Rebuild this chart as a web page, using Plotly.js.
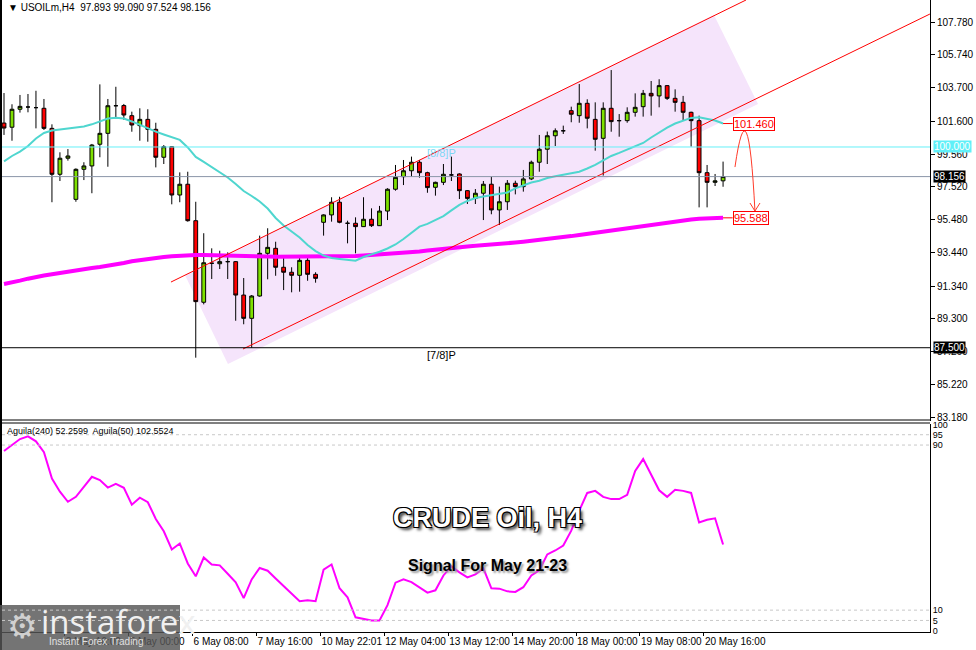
<!DOCTYPE html>
<html><head><meta charset="utf-8">
<script src="https://cdn.plot.ly/plotly-3.0.1.min.js"></script>
<style>body{margin:0;background:#fff}#chart{width:976px;height:650px}</style>
</head><body><div id="chart"></div>
<script>
// ---- DATA (USOILm, H4) ----
const openP  = [101.49,101.23,102.35,102.49,102.45,102.41,101.16,98.30,99.30,96.74,98.61,98.82,100.17,100.85,102.57,102.58,101.95,101.33,101.72,101.10,99.36,100.02,97.01,97.68,95.41,90.33,92.76,92.73,92.86,92.86,90.78,89.33,90.72,93.38,93.69,92.51,92.20,92.01,92.94,92.07,95.31,95.77,96.56,95.25,95.25,95.04,95.50,95.10,96.01,97.37,98.15,98.52,99.05,98.40,97.49,97.80,98.26,98.32,97.28,96.80,97.12,97.68,96.08,96.59,97.74,97.53,98.01,99.05,99.86,100.70,101.01,102.26,101.95,102.72,101.72,100.54,102.41,101.64,101.64,102.16,102.51,103.34,103.18,103.82,103.03,102.78,102.16,101.64,98.40,97.80,97.893];
const highP  = [103.36,102.66,103.24,103.30,103.50,102.99,101.41,99.67,99.87,98.67,99.05,100.19,103.90,102.99,103.75,102.68,102.20,102.41,102.35,101.51,100.12,100.06,98.42,98.46,96.59,94.63,93.69,93.54,93.44,92.90,91.84,90.78,94.48,94.94,94.10,93.17,92.51,93.17,93.13,92.20,95.81,96.87,96.90,95.41,95.62,96.87,96.18,96.33,97.43,98.88,99.19,99.40,99.19,98.46,97.84,98.94,99.40,98.36,97.32,97.38,97.88,98.15,97.53,97.94,97.90,98.57,99.15,100.75,100.96,101.16,101.33,102.51,103.92,102.97,102.78,102.78,104.79,102.05,102.47,103.34,103.55,104.11,104.22,103.86,103.59,103.18,102.20,101.95,98.88,98.32,99.090];
const lowP   = [100.75,100.39,102.14,102.16,101.16,101.06,96.56,97.88,99.15,96.59,97.94,97.12,99.36,98.77,101.79,101.70,100.95,100.39,100.33,98.73,98.94,96.43,96.56,95.35,86.88,90.20,91.78,92.40,91.78,89.18,88.96,87.50,90.68,91.76,91.98,91.09,90.95,90.99,91.67,91.55,94.48,95.35,95.25,94.00,93.38,95.02,95.02,95.08,95.45,97.28,97.63,98.15,98.09,97.15,96.97,97.63,97.88,96.76,96.45,96.45,95.45,95.81,95.14,96.08,97.05,97.22,97.94,98.46,98.94,100.06,100.81,101.54,101.51,101.16,99.77,98.22,100.95,100.64,101.51,101.89,101.89,101.95,102.47,102.93,102.20,101.64,100.02,96.24,96.24,97.57,97.524];
const closeP = [101.18,102.35,102.53,102.49,102.45,101.16,98.30,99.30,99.44,98.61,98.82,100.12,100.85,102.57,102.57,101.99,101.37,101.72,101.10,99.36,100.02,97.01,97.68,95.41,90.37,92.79,92.76,92.86,92.86,90.78,89.33,90.72,93.38,93.75,92.51,92.20,92.01,92.94,92.07,91.82,95.77,96.56,95.31,95.25,95.04,95.50,95.10,96.01,97.37,98.11,98.52,99.05,98.40,97.47,97.80,98.30,98.26,97.28,96.80,97.12,97.68,96.08,96.59,97.74,97.53,98.01,99.05,99.86,100.70,101.01,101.01,102.04,102.72,101.79,100.48,102.41,101.58,101.64,102.16,102.47,103.34,103.18,103.82,103.03,102.78,102.16,101.64,98.40,97.80,97.89,98.156];
const maFast = [99.10,99.44,99.71,100.06,100.53,100.87,101.03,101.10,101.15,101.20,101.28,101.41,101.59,101.77,101.82,101.77,101.59,101.37,101.15,100.96,100.78,100.59,100.44,99.97,99.38,99.07,98.75,98.46,98.10,97.70,97.26,96.95,96.61,96.17,95.58,95.11,94.74,94.36,93.90,93.52,93.24,93.09,93.03,92.96,92.92,93.15,93.31,93.48,93.68,93.93,94.27,94.68,95.04,95.21,95.44,95.70,96.05,96.39,96.64,96.82,96.92,96.99,97.07,97.17,97.42,97.63,97.79,97.90,98.07,98.18,98.26,98.35,98.46,98.66,98.88,99.16,99.44,99.63,99.84,100.03,100.25,100.59,100.90,101.20,101.46,101.65,101.81,101.85,101.77,101.65,101.46];
const maSlow = [91.47,91.55,91.68,91.80,91.92,92.00,92.08,92.17,92.25,92.32,92.40,92.47,92.53,92.60,92.68,92.78,92.88,92.96,93.03,93.10,93.15,93.20,93.24,93.27,93.28,93.28,93.26,93.25,93.24,93.22,93.20,93.19,93.18,93.18,93.17,93.17,93.17,93.17,93.17,93.17,93.18,93.19,93.20,93.20,93.21,93.24,93.27,93.31,93.37,93.40,93.43,93.46,93.49,93.55,93.61,93.68,93.74,93.78,93.81,93.85,93.88,93.92,93.97,94.01,94.05,94.10,94.15,94.19,94.24,94.31,94.38,94.45,94.52,94.59,94.66,94.73,94.80,94.88,94.95,95.03,95.11,95.17,95.24,95.30,95.36,95.42,95.48,95.53,95.56,95.58,95.588];
const aguila = [87.1,89.9,92.9,94.2,91.8,86.5,73.8,67.4,62.5,64.9,69.7,74.6,73.0,69.4,71.2,69.3,61.1,64.5,62.3,54.2,48.2,39.4,42.3,32.6,26.4,35.5,32.1,31.7,27.6,23.5,15.8,24.9,30.4,29.1,25.3,21.5,17.7,14.3,14.8,14.3,29.6,32.1,20.6,16.2,6.5,5.8,5.0,5.0,12.4,23.3,24.9,23.6,21.1,18.5,19.6,26.8,31.2,28.3,25.9,27.3,30.2,20.6,20.4,19.1,18.8,21.1,26.8,29.3,37.0,38.9,41.3,48.5,58.2,66.8,67.8,64.9,63.8,63.8,65.9,77.4,83.2,75.5,68.1,64.9,68.3,67.8,66.8,52.5,53.8,54.5,41.8];
const priceTicks = [107.78,105.74,103.70,101.60,99.56,97.52,95.48,93.44,91.34,89.30,87.26,85.22,83.18];
const oscTicks = [100,95,90,10,5,0];
const oscLevels = [95,90,10,5];
const timeLabels = ["30 Apr 2022","3 May 16:00","5 May 00:00","6 May 08:00","7 May 16:00","10 May 22:01","12 May 04:00","13 May 12:00","14 May 20:00","18 May 00:00","19 May 08:00","20 May 16:00"];
const timeIdx = [0,8,16,24,32,40,48,56,64,72,80,88];
const lastClose = 98.156, roundLevel = 100.0, lowLevel = 87.5;
const maFastLabel = 101.460, maSlowLabel = 95.588;

const bars = openP.map((_, i) => i);
const fmt3 = v => v.toFixed(3);

// pixel -> paper helpers (plot area 2..930 x 0..632)
const px = x => (x - 2) / 928;
const py = y => (632 - y) / 632;
const FONT = "Liberation Sans, Arial, sans-serif";

const traces = [
  {type:'candlestick', x:bars, open:openP, high:highP, low:lowP, close:closeP,
   xaxis:'x', yaxis:'y', whiskerwidth:0, hoverinfo:'skip', showlegend:false,
   increasing:{line:{color:'#000', width:1}, fillcolor:'#7ee000'},
   decreasing:{line:{color:'#000', width:1}, fillcolor:'#ff0000'}},
  {type:'scatter', mode:'lines', x:bars, y:maSlow, xaxis:'x', yaxis:'y',
   line:{color:'#ff00ff', width:4}, hoverinfo:'skip', showlegend:false},
  {type:'scatter', mode:'lines', x:bars, y:maFast, xaxis:'x', yaxis:'y',
   line:{color:'#4fd6cf', width:2}, hoverinfo:'skip', showlegend:false},
  {type:'scatter', mode:'lines', x:bars, y:aguila, xaxis:'x', yaxis:'y2',
   line:{color:'#ff00ff', width:2}, hoverinfo:'skip', showlegend:false}
];

const last = bars.length - 1;
const shapes = [
  {type:'path', xref:'x', yref:'y', layer:'below', line:{width:0}, fillcolor:'#f5e4fb',
   path:'M 22.65 92.03 L 88.86 108.22 L 94.37 102.68 L 28.03 86.49 Z'},
  {type:'line', xref:'x', yref:'y', x0:20.9, y0:91.59, x1:92.87, y1:109.153, line:{color:'#ff0000', width:1}},
  {type:'line', xref:'x', yref:'y', x0:29.91, y0:87.42, x1:115.89, y1:108.28, line:{color:'#ff0000', width:1}},
  {type:'line', xref:'paper', yref:'y', x0:0, x1:1, y0:roundLevel, y1:roundLevel, line:{color:'#66f0f8', width:1}},
  {type:'line', xref:'paper', yref:'y', x0:0, x1:1, y0:lastClose, y1:lastClose, line:{color:'#8a96a8', width:1}},
  {type:'line', xref:'paper', yref:'y', x0:0, x1:1, y0:lowLevel, y1:lowLevel, line:{color:'#000', width:1}},
  {type:'line', xref:'x', yref:'y', x0:last, x1:last+1.2, y0:maFastLabel, y1:maFastLabel, line:{color:'#ff0000', width:1}},
  {type:'line', xref:'x', yref:'y', x0:last, x1:last+1.2, y0:maSlowLabel, y1:maSlowLabel, line:{color:'#ff0000', width:1}},
  {type:'path', xref:'x', yref:'y', line:{color:'#ff3b2a', width:1},
   path:'M 91.49 98.75 Q 93.12 104.36 93.99 96.01'},
  {type:'path', xref:'x', yref:'y', line:{color:'#ff3b2a', width:1},
   path:'M 93.37 96.51 L 93.99 96.01 L 94.62 96.51'},
  {type:'line', xref:'paper', yref:'paper', x0:0, x1:1, y0:py(420), y1:py(420), line:{color:'#000', width:1}},
  {type:'line', xref:'paper', yref:'paper', x0:0, x1:1, y0:py(423), y1:py(423), line:{color:'#000', width:1}},
  {type:'line', xref:'paper', yref:'paper', x0:px(1), x1:px(1), y0:py(0), y1:py(650), line:{color:'#000', width:2}},
  {type:'rect', xref:'paper', yref:'paper', layer:'above', x0:px(0), x1:px(180), y0:py(605), y1:py(650),
   fillcolor:'rgba(85,85,85,0.82)', line:{width:0}}
];
oscLevels.forEach(v => shapes.push({type:'line', xref:'paper', yref:'y2', x0:0, x1:1, y0:v, y1:v,
  line:{color:'#c8c8c8', width:1, dash:'3px,3px'}}));

const priceBox = (val, bg, fg) => ({xref:'paper', yref:'y', x:1, y:val, xanchor:'left', yanchor:'middle',
  text:fmt3(val), showarrow:false, bgcolor:bg, borderpad:0, xshift:3, font:{family:FONT, size:10, color:fg}});
const note = (x, y, text, font, xanchor) => ({xref:'paper', yref:'paper', x:px(x), y:py(y),
  xanchor:xanchor || 'center', yanchor:'middle', showarrow:false, text:text, font:font});

const annotations = [
  note(6, 8, '▼ USOILm,H4  ' + [openP[last], highP[last], lowP[last], closeP[last]].map(fmt3).join(' '),
       {family:FONT, size:10, color:'#000'}, 'left'),
  priceBox(roundLevel, '#5ff0f8', '#fff'),
  priceBox(lastClose, '#000', '#fff'),
  priceBox(lowLevel, '#000', '#fff'),
  {xref:'x', yref:'y', x:last+1.2, y:maFastLabel, xanchor:'left', yanchor:'middle', showarrow:false,
   text:fmt3(maFastLabel), bgcolor:'#fff', bordercolor:'#ff0000', borderwidth:1, borderpad:0,
   font:{family:FONT, size:11, color:'#ff0000'}},
  {xref:'x', yref:'y', x:last+1.2, y:maSlowLabel, xanchor:'left', yanchor:'middle', showarrow:false,
   text:fmt3(maSlowLabel), bgcolor:'#fff', bordercolor:'#ff0000', borderwidth:1, borderpad:0,
   font:{family:FONT, size:11, color:'#ff0000'}},
  {xref:'paper', yref:'y', x:px(441), y:99.63, xanchor:'center', yanchor:'middle', showarrow:false, text:'[8/8]P',
   font:{family:FONT, size:11, color:'#7dd8f5'}},
  {xref:'paper', yref:'y', x:px(441), y:87.05, xanchor:'center', yanchor:'middle', showarrow:false, text:'[7/8]P',
   font:{family:FONT, size:11, color:'#000'}},
  note(5, 431, 'Aguila(240) 52.2599  Aguila(50) 102.5524', {family:FONT, size:9, color:'#000'}, 'left'),
  note(488, 518, 'CRUDE Oil, H4', {family:FONT, size:27, color:'#fff', weight:'bold',
   shadow:'-1px -1px 0 #000, 1px -1px 0 #000, -1px 1px 0 #000, 1px 1px 0 #000, 3px 3px 3px #444'}),
  note(488, 565, 'Signal For May 21-23', {family:FONT, size:16, color:'#000', weight:'bold', shadow:'2px 2px 2px #999'}),
  note(22, 626, '⚙', {family:'DejaVu Sans', size:34, color:'#d0d0d0'}),
  note(39, 621, 'instaforex', {family:'Open Sans', size:33, color:'#f0f0f0'}, 'left'),
  note(47, 641, 'Instant Forex Trading', {family:FONT, size:10, color:'#e0e0e0'}, 'left')
];

const layout = {
  width:976, height:650, margin:{l:2, r:46, t:0, b:18},
  paper_bgcolor:'#fff', plot_bgcolor:'#fff', showlegend:false, dragmode:false, boxgap:0.32,
  xaxis:{anchor:'y2', range:[-0.25, 115.9], rangeslider:{visible:false}, showgrid:false, zeroline:false,
    showline:true, linecolor:'#000', linewidth:1, ticks:'outside', ticklen:3, tickcolor:'#000',
    tickvals:timeIdx.map(v => v - 0.4), ticktext:timeLabels, ticklabelposition:'outside right', tickangle:0,
    tickfont:{family:FONT, size:10, color:'#000'}},
  yaxis:{domain:[py(421), 1], anchor:'x', side:'right', range:[82.937, 109.153], showgrid:false, zeroline:false,
    showline:true, linecolor:'#000', linewidth:1, ticks:'outside', ticklen:4, tickcolor:'#000',
    tickvals:priceTicks, ticktext:priceTicks.map(fmt3), tickfont:{family:FONT, size:10, color:'#000'}},
  yaxis2:{domain:[0, py(424)], anchor:'x', side:'right', range:[-0.6, 100.2], showgrid:false, zeroline:false,
    showline:true, linecolor:'#000', linewidth:1, ticks:'', tickvals:oscTicks, ticktext:oscTicks.map(String),
    tickfont:{family:FONT, size:9, color:'#000'}},
  shapes:shapes, annotations:annotations
};

Plotly.newPlot('chart', traces, layout, {staticPlot:true, displayModeBar:false});
</script></body></html>
